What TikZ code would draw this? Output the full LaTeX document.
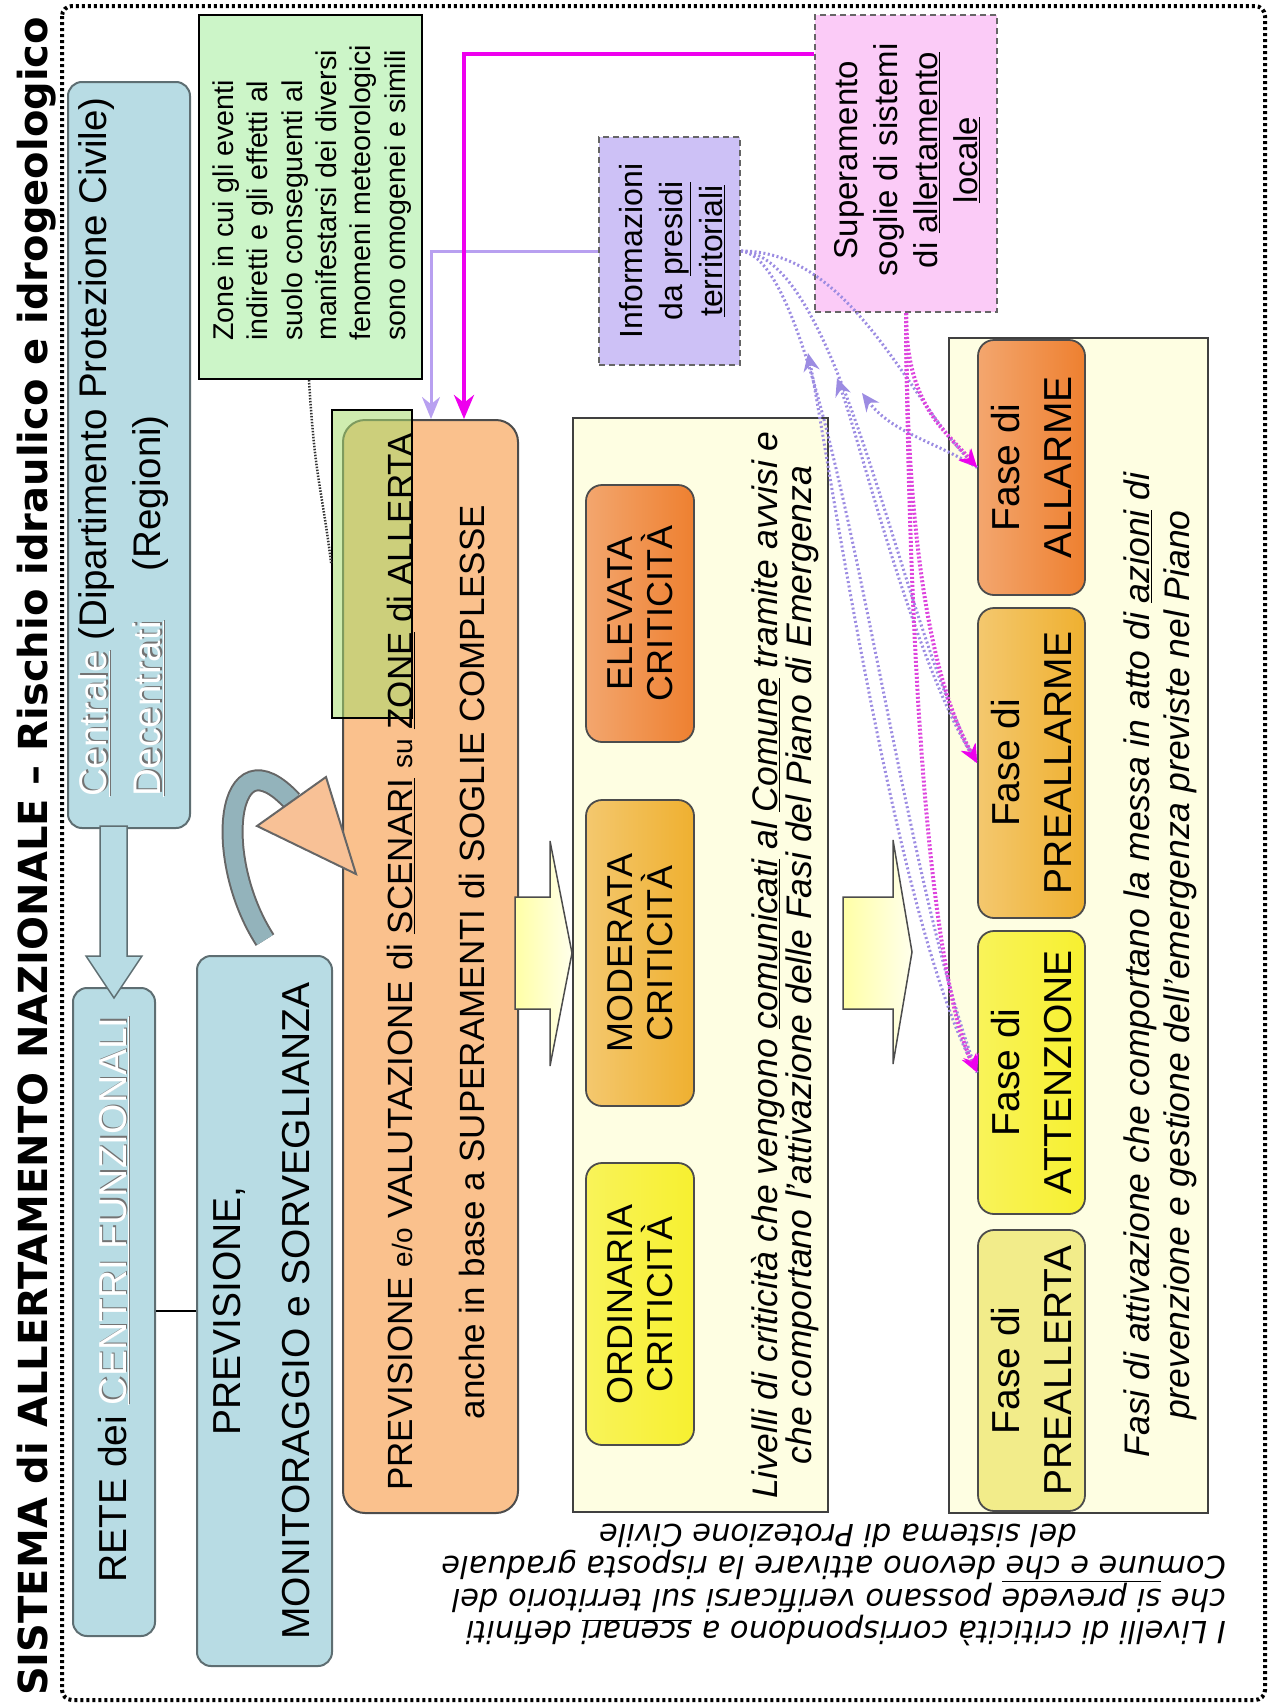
\documentclass[tikz,border=0pt]{standalone}
\usepackage{fontspec}
\setmainfont{Liberation Sans}
\newfontfamily\dejavu{DejaVu Sans}
\usetikzlibrary{arrows.meta,fit,calc}
\definecolor{blueF}{HTML}{B8DCE4}
\definecolor{blueD}{HTML}{5E6E72}
\definecolor{greenF}{HTML}{CCF5C8}
\definecolor{orangeF}{HTML}{FAC18D}
\definecolor{creamF}{HTML}{FEFEE2}
\definecolor{lavF}{HTML}{CDC1F6}
\definecolor{pinkF}{HTML}{FBCBF7}
\definecolor{elevC}{HTML}{EE8030}
\definecolor{modC}{HTML}{EFB030}
\definecolor{ordC}{HTML}{F7F030}
\definecolor{prlC}{HTML}{F2EC8A}
\definecolor{magS}{HTML}{EE00EE}
\definecolor{magD}{HTML}{DD44DD}
\definecolor{lilS}{HTML}{B8A0F0}
\definecolor{lilD}{HTML}{9C8CE2}
\definecolor{peach}{HTML}{F8C196}
\definecolor{bodyC}{HTML}{93B3BB}
\definecolor{zoneF}{HTML}{A8DC6E}
\newcommand\emb[1]{\rlap{{\color{black!55}\kern1.3pt\raisebox{-1.3pt}{\underline{#1}}}}{\color{white}\underline{#1}}}
\begin{document}
\begin{tikzpicture}[x=1pt,y=-1pt,
  bluebox/.style={draw=blueD, line width=2, fill=blueF, rounded corners=14, inner sep=0},
  greenbox/.style={draw=black, line width=2, fill=greenF, inner sep=0},
  orangebox/.style={draw=black!70, line width=2, fill=orangeF, rounded corners=22, inner sep=0},
  zonebox/.style={draw=black, line width=1.5, fill=zoneF, fill opacity=0.55, inner sep=0},
  container/.style={draw=black!75, line width=2, fill=creamF, inner sep=0},
  dashbox/.style={draw=black!60, line width=2, dash pattern=on 6pt off 4pt, inner sep=0},
  levelbox/.style={draw=black!70, line width=1.8, rounded corners=16, inner sep=0},
  txt/.style={inner sep=0, text=black},
  magsolid/.style={draw=magS, line width=4, -{Stealth[length=24pt,width=20pt]}},
  lilsolid/.style={draw=lilS, line width=3, -{Stealth[length=22pt,width=18pt]}},
  lildot/.style={draw=lilD, line width=3, dash pattern=on 2pt off 2.5pt},
  magdot/.style={draw=magD, line width=4, dash pattern=on 2pt off 2pt},
  headM/.style={-{Stealth[length=18pt,width=16pt,color=magS]}},
  headL/.style={{Stealth[length=18pt,width=16pt,color=lilD]}-},
  dotconn/.style={draw=black!80, line width=2.5, dash pattern=on 1.5pt off 1.5pt},
  blockarrow/.style={draw=black!70, line width=1.5, left color=yellow!35, right color=yellow!8}
]
\useasboundingbox (0,0) rectangle (1270,1708);
% frame
\draw[line width=4, dash pattern=on 3pt off 3pt, rounded corners=10] (62,6) rectangle (1265,1700);
% title
\node[txt, rotate=90, anchor=west, font=\dejavu\bfseries\fontsize{40}{42}\selectfont] (title) at (37,1696)
  {SISTEMA di ALLERTAMENTO NAZIONALE – Rischio idraulico e idrogeologico};

% boxes
\node[bluebox, fit={(68,82) (190,828)}] (centrale) {};
\node[bluebox, fit={(73,988) (155,1636)}] (rete) {};
\node[bluebox, fit={(197,956) (332,1666)}] (prev) {};
\node[greenbox, fit={(199,15) (422,379)}] (green) {};
\node[orangebox, fit={(343,420) (518,1513)}] (orange) {};
\node[zonebox, fit={(332,410) (412,718)}] (zone) {};
\node[dashbox, fill=lavF, fit={(599,137) (740,365)}] (info) {};
\node[dashbox, fill=pinkF, fit={(815,15) (997,312)}] (super) {};
\node[container, fit={(573,418) (828,1512)}] (critC) {};
\node[levelbox, left color=elevC!70, middle color=white!90!elevC, right color=elevC, fit={(586,485) (694,742)}] (elev) {};
\node[levelbox, left color=modC!70, middle color=white!88!modC, right color=modC, fit={(586,800) (694,1106)}] (mode) {};
\node[levelbox, left color=ordC!80, middle color=white!85!ordC, right color=ordC, fit={(586,1163) (694,1445)}] (ordi) {};
\node[container, fit={(949,338) (1208,1513)}] (fasiC) {};
\node[levelbox, left color=elevC!70, middle color=white!90!elevC, right color=elevC, fit={(978,340) (1085,595)}] (allarme) {};
\node[levelbox, left color=modC!70, middle color=white!88!modC, right color=modC, fit={(978,608) (1085,918)}] (prea) {};
\node[levelbox, left color=ordC!80, middle color=white!85!ordC, right color=ordC, fit={(978,931) (1085,1214)}] (atte) {};
\node[levelbox, left color=prlC, middle color=white!85!prlC, right color=prlC, fit={(978,1230) (1085,1511)}] (prel) {};

% block arrows
\draw[draw=blueD, line width=1.5, fill=blueF] (100,826) -- (127,826) -- (127,956) -- (142,956) -- (114,998) -- (86,956) -- (100,956) -- cycle;
\draw[blockarrow] (515,897) -- (550,897) -- (550,841) -- (572,953) -- (550,1066) -- (550,1009) -- (515,1009) -- cycle;
\draw[blockarrow] (843,897) -- (893,897) -- (893,840) -- (912,952) -- (893,1064) -- (893,1009) -- (843,1009) -- cycle;

% RETE - PREVISIONE connector
\path (rete.south east) ++(0,-326) coordinate (rp);
\draw[line width=2] (rp) -- (rp -| prev.west);

% curved arrow
\coordinate (cT) at (265,940);
\coordinate (cE) at (292,801);
\draw[line width=22, draw=black!60] (cT) .. controls (212,858) and (226,730) .. (cE);
\draw[line width=18, draw=bodyC] (cT) .. controls (212,858) and (226,730) .. (cE);
\filldraw[fill=peach, draw=black!60, line width=2] (257,826) -- (326,777) -- (356,874) -- cycle;

% dotted connector green -> zone
\path (green.south west) ++(111,0) coordinate (gz);
\draw[dotconn] (gz) .. controls +(6,100) and +(-10,-80) .. (zone.west);

% solid connectors
\path (super.north west) ++(0,40) coordinate (mA);
\path (orange.north west) ++(122,0) coordinate (mB);
\path (orange.north west) ++(89,0) coordinate (lB);
\draw[lilsolid] (info.west) -| (lB);
\draw[magsolid] (mA) -| (mB);

% dotted curves
\coordinate (h1) at (808,353);
\coordinate (h2) at (837,378);
\coordinate (h3) at (862,393);
\draw[lildot, headM] (info.east) .. controls +(110,0) and +(-70,-70) .. (allarme.west);
\draw[lildot, headM] (info.east) .. controls +(100,5) and +(-80,-150) .. (prea.west);
\draw[lildot, headM] (info.east) .. controls +(90,10) and +(-90,-250) .. (atte.west);
\draw[lildot, headL] (h3) .. controls +(30,40) and +(-40,-25) .. (allarme.west);
\draw[lildot, headL] (h2) .. controls +(25,70) and +(-60,-90) .. (prea.west);
\draw[lildot, headL] (h1) .. controls +(20,100) and +(-80,-140) .. (atte.west);
\draw[magdot, headM] (super.south) .. controls +(0,90) and +(-35,-40) .. (allarme.west);
\draw[magdot, headM] (super.south) .. controls +(0,250) and +(-40,-70) .. (prea.west);
\draw[magdot, headM] (super.south) .. controls +(5,520) and +(-30,-60) .. (atte.west);

% texts
\node[txt, rotate=90, anchor=west, align=left, font=\fontsize{38.5}{54}\selectfont] (centraleT) at (124,797)
  {\emb{Centrale} (Dipartimento Protezione Civile)\\\emb{Decentrati}\hspace{50pt}(Regioni)};
\node[txt, rotate=90, font=\fontsize{39}{44}\selectfont] (reteT) at (114,1300) {RETE dei \emb{CENTRI FUNZIONALI}};
\node[txt, rotate=90, align=center, font=\fontsize{39}{69}\selectfont] (prevT) at (262,1311)
  {PREVISIONE,\\MONITORAGGIO e SORVEGLIANZA};
\node[txt, rotate=90, anchor=west, align=left, font=\fontsize{28.6}{34.3}\selectfont] (greenT) at (312,341)
  {Zone in cui gli eventi\\indiretti e gli effetti al\\suolo conseguenti al\\manifestarsi dei diversi\\fenomeni meteorologici\\sono omogenei e simili};
\node[txt, rotate=90, align=center, font=\fontsize{35}{72}\selectfont] (orangeT) at (436,962)
  {PREVISIONE {\fontsize{28}{30}\selectfont e/o} VALUTAZIONE di \underline{SCENARI} {\fontsize{28}{30}\selectfont su} \underline{ZONE} di ALLERTA\\anche in base a SUPERAMENTI di SOGLIE COMPLESSE};
\node[txt, rotate=90, align=center, font=\fontsize{32}{40}\selectfont] (infoT) at (672,251)
  {Informazioni\\da \underline{presidi}\\\underline{territoriali}};
\node[txt, rotate=90, align=center, font=\fontsize{33}{40}\selectfont] (superT) at (907,160)
  {Superamento\\soglie di sistemi\\di \underline{allertamento}\\\underline{locale}};
\node[txt, rotate=90, align=center, font=\fontsize{36}{40}\selectfont] at (elev.center) {ELEVATA\\CRITICITÀ};
\node[txt, rotate=90, align=center, font=\fontsize{36}{40}\selectfont] at (mode.center) {MODERATA\\CRITICITÀ};
\node[txt, rotate=90, align=center, font=\fontsize{36}{40}\selectfont] at (ordi.center) {ORDINARIA\\CRITICITÀ};
\node[txt, rotate=90, align=center, font=\itshape\fontsize{35.5}{34}\selectfont] (critT) at (785,965)
  {Livelli di criticità che vengono \underline{comunicati} al \underline{Comune} tramite avvisi e\\che comportano l'attivazione delle Fasi del Piano di Emergenza};
\node[txt, rotate=90, align=center, font=\fontsize{39}{52}\selectfont] at (allarme.center) {Fase di\\ALLARME};
\node[txt, rotate=90, align=center, font=\fontsize{39}{52}\selectfont] at (prea.center) {Fase di\\PREALLARME};
\node[txt, rotate=90, align=center, font=\fontsize{39}{52}\selectfont] at (atte.center) {Fase di\\ATTENZIONE};
\node[txt, rotate=90, align=center, font=\fontsize{39}{52}\selectfont] at (prel.center) {Fase di\\PREALLERTA};
\node[txt, rotate=90, align=center, font=\itshape\fontsize{35.5}{40}\selectfont] (fasiT) at (1160,965)
  {Fasi di attivazione che comportano la messa in atto di \underline{azioni} di\\prevenzione e gestione dell'emergenza previste nel Piano};
\node[txt, rotate=180, anchor=west, align=left, font=\dejavu\itshape\fontsize{30.5}{32.5}\selectfont] (note) at (1226,1585)
  {I Livelli di criticità corrispondono a \underline{scenari} definiti\\che \underline{si prevede} possano verificarsi sul territorio del\\Comune e che devono attivare la risposta graduale\\\hspace*{149pt}del sistema di Protezione Civile};
\end{tikzpicture}
\end{document}
